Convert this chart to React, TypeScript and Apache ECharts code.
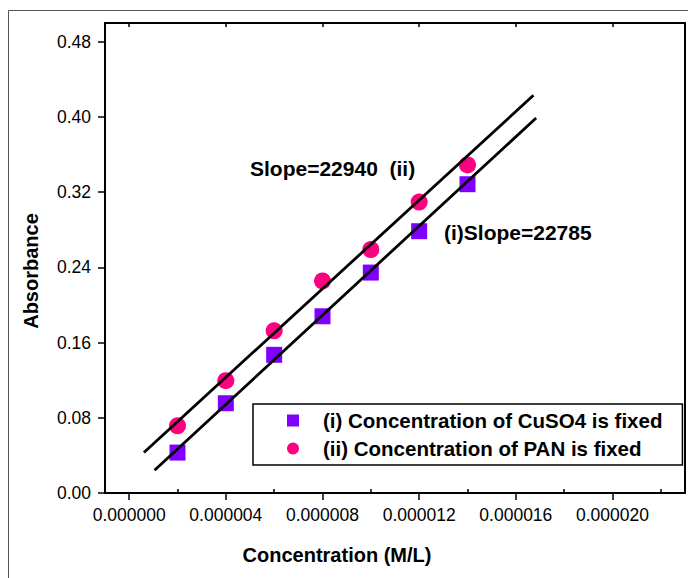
import React, { useEffect, useRef } from "react";
import * as echarts from "echarts";

// ---- data ----
const concentrations = [2e-6, 4e-6, 6e-6, 8e-6, 10e-6, 12e-6, 14e-6];
const absorbanceCuSO4Fixed = [0.043, 0.0955, 0.147, 0.188, 0.2345, 0.2785, 0.3285];
const absorbancePANFixed = [0.0715, 0.1195, 0.1725, 0.2256, 0.259, 0.3095, 0.349];
const fitLineIx = [1.05e-6, 16.84e-6];
const fitLineIy = [0.0243, 0.3989];
const fitLineIIx = [0.61e-6, 16.73e-6];
const fitLineIIy = [0.0431, 0.4231];
const xTickValues = [0, 4e-6, 8e-6, 12e-6, 16e-6, 20e-6];
const xTickLabels = ["0.000000", "0.000004", "0.000008", "0.000012", "0.000016", "0.000020"];
const xMinorTickValues = [2e-6, 6e-6, 10e-6, 14e-6, 18e-6, 22e-6];
const yTickValues = [0, 0.08, 0.16, 0.24, 0.32, 0.4, 0.48];
const yTickLabels = ["0.00", "0.08", "0.16", "0.24", "0.32", "0.40", "0.48"];
const seriesNames = ["(i) Concentration of CuSO4 is fixed", "(ii) Concentration of PAN is fixed"];
const slopeLabelII = "Slope=22940  (ii)";
const slopeLabelI = "(i)Slope=22785";
const xAxisTitle = "Concentration (M/L)";
const yAxisTitle = "Absorbance";

const FONT = "'Liberation Sans', Arial, Helvetica, sans-serif";

const labelFor = (values: number[], labels: string[]) => (v: number) => {
  const i = values.findIndex((t) => Math.abs(t - v) < 1e-9 * Math.max(1, Math.abs(t)) + 1e-12);
  return i >= 0 ? labels[i] : "";
};

export default function App() {
  const ref = useRef<HTMLDivElement>(null);
  useEffect(() => {
    if (!ref.current) return;
    const chart = echarts.init(ref.current, undefined, { renderer: "svg" });
    const pairs = (xs: number[], ys: number[]) => xs.map((x, i) => [x, ys[i]]);
    const option: any = {
      animation: false,
      backgroundColor: "#ffffff",
      grid: { left: 105, right: 3, top: 23, bottom: 85, containLabel: false },
      xAxis: [
        {
          type: "value",
          position: "bottom",
          min: -1e-6,
          max: 23e-6,
          axisLine: { show: true, onZero: false, lineStyle: { color: "#000", width: 2 } },
          axisTick: { show: true, inside: false, length: 7, lineStyle: { color: "#000", width: 1.5 }, customValues: xTickValues },
          axisLabel: {
            show: true,
            customValues: xTickValues,
            formatter: labelFor(xTickValues, xTickLabels),
            fontSize: 17.5,
            fontFamily: FONT,
            color: "#000",
            margin: 13,
          },
          splitLine: { show: false },
        },
        {
          type: "value",
          position: "bottom",
          min: -1e-6,
          max: 23e-6,
          axisLine: { show: false, onZero: false },
          axisTick: { show: true, inside: true, length: 4, lineStyle: { color: "#000", width: 1.5 }, customValues: xMinorTickValues },
          axisLabel: { show: false },
          splitLine: { show: false },
        },
        {
          type: "value",
          position: "top",
          min: -1e-6,
          max: 23e-6,
          axisLine: { show: true, onZero: false, lineStyle: { color: "#000", width: 2 } },
          axisTick: { show: true, inside: true, length: 4, lineStyle: { color: "#000", width: 1.5 }, customValues: xTickValues },
          axisLabel: { show: false },
          splitLine: { show: false },
        },
      ],
      yAxis: [
        {
          type: "value",
          position: "left",
          min: 0,
          max: 0.5,
          axisLine: { show: true, onZero: false, lineStyle: { color: "#000", width: 2 } },
          axisTick: { show: true, inside: false, length: 7, lineStyle: { color: "#000", width: 1.5 }, customValues: yTickValues },
          axisLabel: {
            show: true,
            customValues: yTickValues,
            formatter: labelFor(yTickValues, yTickLabels),
            fontSize: 17.5,
            fontFamily: FONT,
            color: "#000",
            margin: 14,
          },
          splitLine: { show: false },
        },
        {
          type: "value",
          position: "right",
          min: 0,
          max: 0.5,
          axisLine: { show: true, onZero: false, lineStyle: { color: "#000", width: 2 } },
          axisTick: { show: false },
          axisLabel: { show: false },
          splitLine: { show: false },
        },
      ],
      legend: {
        data: [
          { name: seriesNames[0], icon: "path://M0,0H1V1H0Z" },
          { name: seriesNames[1], icon: "circle" },
        ],
        orient: "vertical",
        left: 253,
        top: 404,
        padding: [6, 20, 6, 34],
        itemWidth: 50,
        itemHeight: 12,
        itemGap: 7,
        symbolKeepAspect: true,
        borderColor: "#000",
        borderWidth: 1.5,
        borderRadius: 0,
        backgroundColor: "#fff",
        selectedMode: false,
        textStyle: { fontSize: 20.5, fontWeight: "bold", color: "#000", fontFamily: FONT, lineHeight: 20 },
      },
      series: [
        {
          name: seriesNames[0],
          type: "scatter",
          xAxisIndex: 0,
          yAxisIndex: 0,
          symbol: "rect",
          symbolSize: 16,
          itemStyle: { color: "#8000FF", opacity: 1 },
          data: pairs(concentrations, absorbanceCuSO4Fixed),
          z: 2,
        },
        {
          name: seriesNames[1],
          type: "scatter",
          xAxisIndex: 0,
          yAxisIndex: 0,
          symbol: "circle",
          symbolSize: 17,
          itemStyle: { color: "#FF0080", opacity: 1 },
          data: pairs(concentrations, absorbancePANFixed),
          z: 2,
        },
        {
          name: "fit (i)",
          type: "line",
          xAxisIndex: 0,
          yAxisIndex: 0,
          symbol: "none",
          lineStyle: { color: "#000", width: 2.8 },
          data: pairs(fitLineIx, fitLineIy),
          z: 3,
        },
        {
          name: "fit (ii)",
          type: "line",
          xAxisIndex: 0,
          yAxisIndex: 0,
          symbol: "none",
          lineStyle: { color: "#000", width: 2.8 },
          data: pairs(fitLineIIx, fitLineIIy),
          z: 3,
        },
      ],
      graphic: [
        {
          type: "rect",
          silent: true,
          z: -10,
          shape: { x: 8.5, y: 10.5, width: 700, height: 600 },
          style: { fill: "none", stroke: "#555", lineWidth: 1 },
        },
        {
          type: "text",
          x: 31,
          y: 271,
          rotation: Math.PI / 2,
          style: { text: yAxisTitle, font: `bold 20px ${FONT}`, fill: "#000", align: "center", verticalAlign: "middle" },
        },
        {
          type: "text",
          x: 337,
          y: 555,
          style: { text: xAxisTitle, font: `bold 20px ${FONT}`, fill: "#000", align: "center", verticalAlign: "middle" },
        },
        {
          type: "text",
          x: 250,
          y: 168,
          style: { text: slopeLabelII, font: `bold 21px ${FONT}`, fill: "#000", align: "left", verticalAlign: "middle" },
        },
        {
          type: "text",
          x: 444,
          y: 232,
          style: { text: slopeLabelI, font: `bold 21px ${FONT}`, fill: "#000", align: "left", verticalAlign: "middle" },
        },
      ],
    };
    chart.setOption(option);
    return () => chart.dispose();
  }, []);
  return (
    <div
      ref={ref}
      style={{ position: "fixed", left: 0, top: 0, width: 688, height: 578, background: "#fff" }}
    />
  );
}
